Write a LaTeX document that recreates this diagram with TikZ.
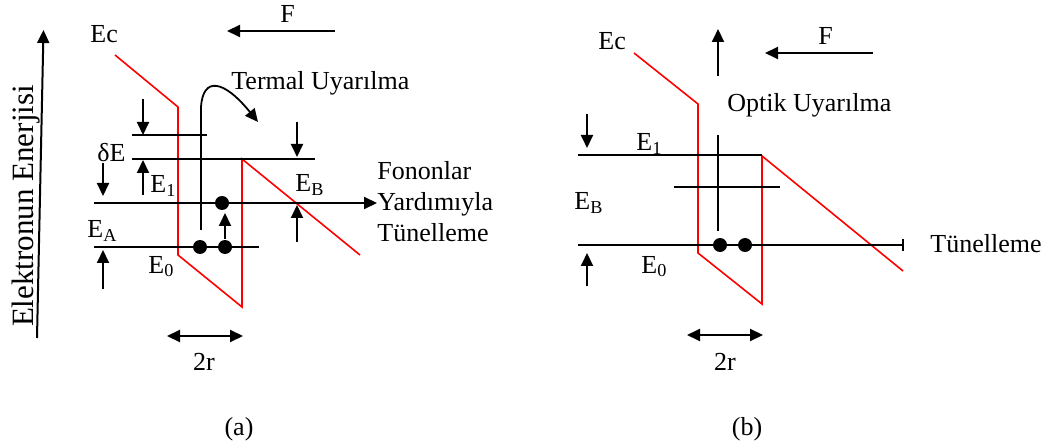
\documentclass[tikz,border=0pt]{standalone}
\usepackage{fontspec}
\setmainfont{Liberation Serif}
\usetikzlibrary{arrows.meta,positioning}

\begin{document}
\begin{tikzpicture}[x=0.5pt,y=-0.5pt,
    every node/.style={font=\fontsize{13pt}{15pt}\selectfont, inner sep=0pt},
    lbl/.style={anchor=base west},
    arr/.style={-{Triangle[length=6.5pt,width=6pt]}, line width=1pt},
    darr/.style={{Triangle[length=6.5pt,width=6pt]}-{Triangle[length=6.5pt,width=6pt]}, line width=1pt},
    lvl/.style={line width=1pt},
    band/.style={red, line width=0.8pt},
    elec/.style={circle, fill=black, minimum size=7pt}]
    \useasboundingbox (0,0) rectangle (1052,448);

    % ---------- (a) ----------
    % energy axis
    \coordinate (axB) at (37,338);
    \coordinate (axT) at (43.5,30);
    \draw[arr] (axB) -- (axT);
    \node[rotate=90, anchor=base, font=\fontsize{15.5pt}{17pt}\selectfont] (axis) at (33,206) {Elektronun Enerjisi};

    % field
    \node[lbl] (Fa) at (280,23) {F};
    \coordinate (FaR) at (335,31);
    \coordinate (FaL) at (227,31);
    \draw[arr] (FaR) -- (FaL);

    % conduction band
    \node[lbl] (Eca) at (90,43) {Ec};
    \draw[band] (115,55) -- (178,107) -- (178,255) -- (242,307) -- (242,159) -- (360,255);

    % levels
    \coordinate (dEl) at (132,135);
    \coordinate (dEr) at (207,135);
    \draw[lvl] (dEl) -- (dEr);
    \coordinate (E1l) at (132,159);
    \coordinate (E1r) at (315,159);
    \draw[lvl] (E1l) -- (E1r);
    \coordinate (Tl) at (94,203);
    \coordinate (Tr) at (377,203);
    \draw[arr] (Tl) -- (Tr);
    \coordinate (E0l) at (94,247);
    \coordinate (E0r) at (259,247);
    \draw[lvl] (E0l) -- (E0r);

    % thermal excitation
    \coordinate (thB) at (201,230);
    \coordinate (thT) at (201,107);
    \coordinate (thE) at (258,122);
    \draw[line width=0.9pt] (thB) -- (thT);
    \draw[arr, line width=0.9pt] (thT) .. controls (203,76) and (224,80) .. (thE);
    \node[lbl] (term) at (231,90) {Termal Uyarılma};

    % small arrows
    \draw[arr] (143,99) -- (143,135);
    \draw[arr] (143,195) -- (143,160);
    \draw[arr] (297,122) -- (297,157);
    \draw[arr] (297,242) -- (297,205);
    \draw[arr] (103,163) -- (103,196);
    \draw[arr] (103,289) -- (103,250);

    % electrons
    \node[elec] (e1) at (200,247) {};
    \node[elec] (e2) at (225,247) {};
    \node[elec] (e3) at (222,203) {};
    \coordinate (e2t) at (225,213);
    \draw[arr] (e2) ++(0,-8) -- (e2t);

    % labels
    \node[lbl] (dEa) at (97,162) {δE};
    \node[lbl] (E1a) at (150,193) {E\textsubscript{1}};
    \node[lbl] (EBa) at (295,192) {E\textsubscript{B}};
    \node[lbl] (EAa) at (87,238) {E\textsubscript{A}};
    \node[lbl] (E0a) at (148,273) {E\textsubscript{0}};
    \node[lbl] (fon1) at (377,180) {Fononlar};
    \node[lbl] (fon2) at (377,211) {Yardımıyla};
    \node[lbl] (fon3) at (377,242) {Tünelleme};

    % width
    \coordinate (wAl) at (167,336);
    \coordinate (wAr) at (243,336);
    \draw[darr] (wAl) -- (wAr);
    \node[anchor=base] (ra) at (204,370) {2r};
    \node[anchor=base] (capa) at (239,435) {(a)};

    % ---------- (b) ----------
    \node[lbl] (Fb) at (818,45) {F};
    \coordinate (FbR) at (873,53);
    \coordinate (FbL) at (765,53);
    \draw[arr] (FbR) -- (FbL);

    \node[lbl] (Ecb) at (598,50) {Ec};
    \draw[band] (634,53) -- (698,104) -- (698,253) -- (762,304) -- (762,156) -- (903,271);

    % optical excitation
    \coordinate (opB) at (718,76);
    \coordinate (opT) at (718,29);
    \draw[arr] (opB) -- (opT);
    \node[lbl] (opt) at (727,112) {Optik Uyarılma};

    % levels
    \coordinate (E1bl) at (578,155);
    \coordinate (E1br) at (762,155);
    \draw[lvl] (E1bl) -- (E1br);
    \coordinate (mbl) at (674,187);
    \coordinate (mbr) at (780,187);
    \draw[lvl] (mbl) -- (mbr);
    \coordinate (vbT) at (718,135);
    \coordinate (vbB) at (718,231);
    \draw[lvl] (vbT) -- (vbB);
    \coordinate (E0bl) at (578,245);
    \coordinate (E0br) at (904,245);
    \draw[lvl, -{Bar[width=6pt]}] (E0bl) -- (E0br);

    % electrons
    \node[elec] (e4) at (720,245) {};
    \node[elec] (e5) at (745,245) {};

    % small arrows
    \draw[arr] (587,114) -- (587,148);
    \draw[arr] (587,286) -- (587,253);

    % labels
    \node[lbl] (E1b) at (636,151) {E\textsubscript{1}};
    \node[lbl] (EBb) at (574,210) {E\textsubscript{B}};
    \node[lbl] (E0b) at (641,273) {E\textsubscript{0}};
    \node[lbl] (tun) at (930,253) {Tünelleme};

    % width
    \coordinate (wBl) at (687,335);
    \coordinate (wBr) at (763,335);
    \draw[darr] (wBl) -- (wBr);
    \node[anchor=base] (rb) at (725,370) {2r};
    \node[anchor=base] (capb) at (747,435) {(b)};
  \end{tikzpicture}
\end{document}
